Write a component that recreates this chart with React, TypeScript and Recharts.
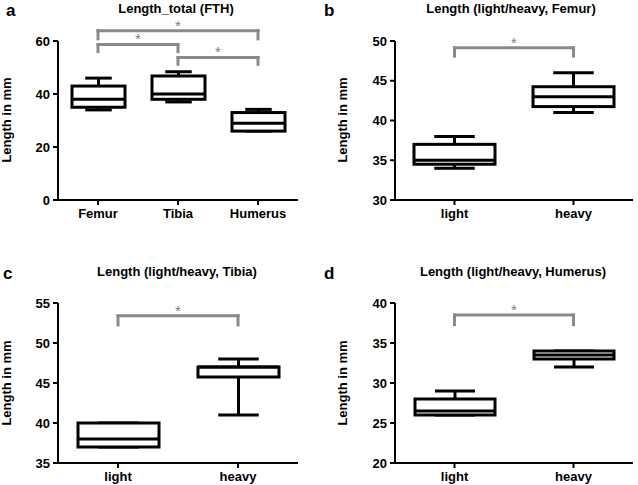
import React from 'react';
import { ComposedChart, Bar, XAxis, YAxis, ReferenceLine } from 'recharts';

const FONT = '"Liberation Sans", Arial, Helvetica, sans-serif';
const GRAY = '#8a8a8a';

// Panel a
const catsA = ['Femur', 'Tibia', 'Humerus'];
const minA = [34, 37, 26];
const q1A = [35, 38, 26];
const medA = [38, 40, 29];
const q3A = [43, 46.8, 33];
const maxA = [46, 48.4, 34.2];
const ticksA = [0, 20, 40, 60];

// Panel b
const catsB = ['light', 'heavy'];
const minB = [34, 41];
const q1B = [34.5, 41.75];
const medB = [35, 43];
const q3B = [37, 44.25];
const maxB = [38, 46];
const ticksB = [30, 35, 40, 45, 50];

// Panel c
const catsC = ['light', 'heavy'];
const minC = [37, 41];
const q1C = [37, 45.75];
const medC = [38, 47];
const q3C = [40, 47];
const maxC = [40, 48];
const ticksC = [35, 40, 45, 50, 55];

// Panel d
const catsD = ['light', 'heavy'];
const minD = [26, 32];
const q1D = [26, 33];
const medD = [26.5, 33.5];
const q3D = [28, 34];
const maxD = [29, 34];
const ticksD = [20, 25, 30, 35, 40];

// Significance brackets: [from, to, bar level, end level]
const bracketsA: [string, string, number, number][] = [
  ['Femur', 'Humerus', 63.9, 60.8],
  ['Femur', 'Tibia', 58.7, 56],
  ['Tibia', 'Humerus', 53.8, 51.2],
];
const bracketsB: [string, string, number, number][] = [['light', 'heavy', 49.15, 48.1]];
const bracketsC: [string, string, number, number][] = [['light', 'heavy', 53.4, 52.25]];
const bracketsD: [string, string, number, number][] = [['light', 'heavy', 38.5, 37.3]];

const build = (cats: string[], mn: number[], q1: number[], md: number[], q3: number[], mx: number[]) =>
  cats.map((name, i) => ({ name, min: mn[i], q1: q1[i], med: md[i], q3: q3[i], max: mx[i] }));

const BoxShape = (props: any) => {
  const { x, y, width, height, payload } = props;
  const top = Math.min(y, y + height);
  const bot = Math.max(y, y + height);
  const ppu = (bot - top) / (payload.max - payload.min);
  const py = (v: number) => bot - (v - payload.min) * ppu;
  const cx = x + width / 2;
  const cw = width / 4;
  return (
    <g stroke="#000" strokeWidth={3} fill="none">
      <line x1={cx} x2={cx} y1={py(payload.max)} y2={py(payload.q3)} />
      <line x1={cx} x2={cx} y1={py(payload.q1)} y2={py(payload.min)} />
      <line x1={cx - cw} x2={cx + cw} y1={py(payload.max)} y2={py(payload.max)} />
      <line x1={cx - cw} x2={cx + cw} y1={py(payload.min)} y2={py(payload.min)} />
      <rect x={x} y={py(payload.q3)} width={width} height={py(payload.q1) - py(payload.q3)} fill="#fff" />
      <line x1={x} x2={x + width} y1={py(payload.med)} y2={py(payload.med)} />
    </g>
  );
};

const tickStyle = { fill: '#000', fontSize: 13, fontWeight: 'bold', fontFamily: FONT };
const axisLine = { stroke: '#000', strokeWidth: 2 };

type PanelProps = {
  left: number; top: number; width: number; height: number;
  margin: { top: number; right: number; bottom: number; left: number };
  yWidth: number; xHeight: number;
  data: any[]; domain: [number, number]; ticks: number[];
  brackets: [string, string, number, number][]; barSize: number;
};

const Panel = (p: PanelProps) => (
  <div style={{ position: 'absolute', left: p.left, top: p.top }}>
    <ComposedChart width={p.width} height={p.height} data={p.data} margin={p.margin}>
      <XAxis
        dataKey="name"
        type="category"
        height={p.xHeight}
        tick={tickStyle}
        axisLine={axisLine}
        tickLine={axisLine}
        tickSize={5}
        tickMargin={4}
        interval={0}
      />
      <YAxis
        type="number"
        domain={p.domain}
        ticks={p.ticks}
        width={p.yWidth}
        tick={tickStyle}
        axisLine={axisLine}
        tickLine={axisLine}
        tickSize={5}
        tickMargin={3}
        interval={0}
      />
      <Bar
        dataKey={(d: any) => [d.min, d.max]}
        barSize={p.barSize}
        shape={BoxShape}
        isAnimationActive={false}
      />
      {p.brackets.map(([a, b, yv, ye], i) => (
        <ReferenceLine
          key={'h' + i}
          segment={[{ x: a, y: yv }, { x: b, y: yv }]}
          stroke={GRAY}
          strokeWidth={3}
          strokeLinecap="square"
          ifOverflow="visible"
          label={{ value: '*', position: 'top', offset: 0, fill: '#808080', fontSize: 15, fontFamily: FONT }}
        />
      ))}
      {p.brackets.map(([a, b, yv, ye], i) => (
        <ReferenceLine
          key={'l' + i}
          segment={[{ x: a, y: yv }, { x: a, y: ye }]}
          stroke={GRAY}
          strokeWidth={3}
          strokeLinecap="square"
          ifOverflow="visible"
        />
      ))}
      {p.brackets.map(([a, b, yv, ye], i) => (
        <ReferenceLine
          key={'r' + i}
          segment={[{ x: b, y: yv }, { x: b, y: ye }]}
          stroke={GRAY}
          strokeWidth={3}
          strokeLinecap="square"
          ifOverflow="visible"
        />
      ))}
    </ComposedChart>
  </div>
);

const txt = { fontFamily: FONT, fontWeight: 'bold', fill: '#000' } as const;

export default function App() {
  const dataA = build(catsA, minA, q1A, medA, q3A, maxA);
  const dataB = build(catsB, minB, q1B, medB, q3B, maxB);
  const dataC = build(catsC, minC, q1C, medC, q3C, maxC);
  const dataD = build(catsD, minD, q1D, medD, q3D, maxD);
  return (
    <div style={{ position: 'absolute', left: 0, top: 0, width: 638, height: 485, background: '#fff', overflow: 'hidden' }}>
      <Panel left={0} top={0} width={320} height={240} margin={{ top: 41, right: 22, bottom: 10, left: 0 }}
        yWidth={58} xHeight={30} data={dataA} domain={[0, 60]} ticks={ticksA} brackets={bracketsA} barSize={53} />
      <Panel left={318} top={0} width={320} height={240} margin={{ top: 41, right: 5, bottom: 10, left: 0 }}
        yWidth={77} xHeight={30} data={dataB} domain={[30, 50]} ticks={ticksB} brackets={bracketsB} barSize={81} />
      <Panel left={0} top={242} width={320} height={243} margin={{ top: 61, right: 22, bottom: 0, left: 0 }}
        yWidth={58} xHeight={22} data={dataC} domain={[35, 55]} ticks={ticksC} brackets={bracketsC} barSize={81} />
      <Panel left={318} top={242} width={320} height={243} margin={{ top: 61, right: 5, bottom: 0, left: 0 }}
        yWidth={77} xHeight={22} data={dataD} domain={[20, 40]} ticks={ticksD} brackets={bracketsD} barSize={80} />
      <svg width={638} height={485} style={{ position: 'absolute', left: 0, top: 0, pointerEvents: 'none' }}>
        <text x={6} y={16} fontSize={17} {...txt}>a</text>
        <text x={324} y={16} fontSize={17} {...txt}>b</text>
        <text x={3} y={279} fontSize={17} {...txt}>c</text>
        <text x={324} y={279} fontSize={17} {...txt}>d</text>
        <text x={176} y={13} fontSize={13} textAnchor="middle" {...txt}>Length_total (FTH)</text>
        <text x={511} y={13} fontSize={13} textAnchor="middle" {...txt}>Length (light/heavy, Femur)</text>
        <text x={177} y={276} fontSize={13} textAnchor="middle" {...txt}>Length (light/heavy, Tibia)</text>
        <text x={513} y={276} fontSize={13} textAnchor="middle" {...txt}>Length (light/heavy, Humerus)</text>
        <text x={11} y={120} fontSize={13} textAnchor="middle" transform="rotate(-90 11 120)" {...txt}>Length in mm</text>
        <text x={347} y={120} fontSize={13} textAnchor="middle" transform="rotate(-90 347 120)" {...txt}>Length in mm</text>
        <text x={11} y={383} fontSize={13} textAnchor="middle" transform="rotate(-90 11 383)" {...txt}>Length in mm</text>
        <text x={347} y={383} fontSize={13} textAnchor="middle" transform="rotate(-90 347 383)" {...txt}>Length in mm</text>
      </svg>
    </div>
  );
}
